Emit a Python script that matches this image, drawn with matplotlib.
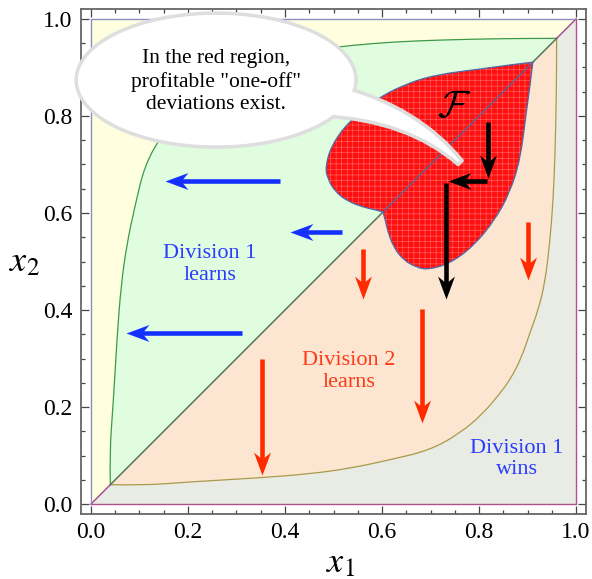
import numpy as np
import matplotlib
matplotlib.use('Agg')
import matplotlib.pyplot as plt
from matplotlib.patches import Ellipse, PathPatch
from matplotlib.path import Path
from matplotlib.markers import MarkerStyle
from matplotlib.transforms import Affine2D

plt.rcParams.update({
    'font.family': 'Liberation Serif',
    'hatch.linewidth': 0.4,
})

ticks = [0.0, 0.2, 0.4, 0.6, 0.8, 1.0]
tick_labels = ['0.0', '0.2', '0.4', '0.6', '0.8', '1.0']

# lower-right boundary: below it division 1 wins
div2_x = [0.04, 0.10, 0.21, 0.348, 0.45, 0.534, 0.616, 0.699, 0.761,
          0.809, 0.843, 0.864, 0.887, 0.905, 0.922, 0.936, 0.946, 0.953, 0.957,
          0.959, 0.960, 0.96]
div2_y = [0.04, 0.038, 0.046, 0.054, 0.062, 0.0735, 0.091, 0.111, 0.146,
          0.187, 0.228, 0.256, 0.30, 0.353, 0.40, 0.456, 0.54, 0.627, 0.73,
          0.82, 0.90, 0.96]

# upper-left boundary of the division 1 learning zone
div1_x = [0.04, 0.038, 0.046, 0.054, 0.062, 0.0735, 0.091, 0.111, 0.146,
          0.187, 0.228, 0.256, 0.30, 0.353, 0.40, 0.456, 0.54, 0.627, 0.73,
          0.82, 0.90, 0.96]
div1_y = [0.04, 0.10, 0.21, 0.348, 0.45, 0.534, 0.616, 0.699, 0.761,
          0.809, 0.843, 0.864, 0.887, 0.905, 0.922, 0.936, 0.946, 0.953, 0.957,
          0.959, 0.960, 0.96]

diag_lo, diag_hi = 0.04, 0.96

# region F (profitable one-off deviations): lower lobe runs notch -> tip,
# upper lobe runs tip -> notch
lobe_lo_x = [0.602, 0.607, 0.611, 0.623, 0.644, 0.671, 0.695, 0.74, 0.788, 0.833,
             0.863, 0.885, 0.898, 0.905, 0.911]
lobe_lo_y = [0.602, 0.585, 0.565, 0.531, 0.503, 0.488, 0.483, 0.496, 0.531, 0.586,
             0.641, 0.709, 0.812, 0.86, 0.911]
lobe_up_x = [0.911, 0.86, 0.812, 0.709, 0.641, 0.586, 0.531, 0.496, 0.483, 0.488,
             0.503, 0.531, 0.565, 0.585, 0.602]
lobe_up_y = [0.911, 0.905, 0.898, 0.885, 0.863, 0.833, 0.788, 0.74, 0.695, 0.671,
             0.644, 0.623, 0.611, 0.607, 0.602]

# arrows: (tail x, tail y, head x, head y)
blue_arrows = [(0.39, 0.665, 0.153, 0.665),
               (0.518, 0.561, 0.41, 0.561),
               (0.311, 0.352, 0.0715, 0.352)]
red_arrows = [(0.561, 0.526, 0.561, 0.423),
              (0.90, 0.581, 0.90, 0.462),
              (0.682, 0.403, 0.682, 0.166),
              (0.353, 0.30, 0.353, 0.06)]
black_arrows = [(0.818, 0.788, 0.818, 0.672),
                (0.816, 0.665, 0.737, 0.665),
                (0.731, 0.661, 0.731, 0.423)]


def spline(xs, ys):
    """Quadratic B-spline pieces through the points, as [verts, codes]."""
    pts = np.column_stack([xs, ys])
    verts, codes = [pts[0]], [Path.LINETO]
    n = len(pts)
    for i in range(1, n - 1):
        end = pts[i + 1] if i == n - 2 else (pts[i] + pts[i + 1]) / 2
        verts += [pts[i], end]
        codes += [Path.CURVE3, Path.CURVE3]
    return [verts, codes]


def make_path(*pieces, close=True):
    # pieces are either single (x, y) tuples or spline() lists
    verts, codes = [], []
    for p in pieces:
        if isinstance(p, list):
            verts += p[0]
            codes += p[1]
        else:
            verts.append(np.asarray(p, float))
            codes.append(Path.LINETO)
    codes[0] = Path.MOVETO
    if close:
        verts.append(verts[0])
        codes.append(Path.CLOSEPOLY)
    return Path(np.array(verts, float), codes)


fig = plt.figure(figsize=(5.92, 5.79), dpi=100)
ax = fig.add_axes([81 / 592, 65 / 579, 505 / 592, 505 / 579])
ax.set_xlim(-0.0206, 1.0206)
ax.set_ylim(-0.0206, 1.0206)

div1 = spline(div1_x, div1_y)
div1_rev = spline(div1_x[::-1], div1_y[::-1])
div2 = spline(div2_x, div2_y)
div2_rev = spline(div2_x[::-1], div2_y[::-1])

# coloured regions
ax.add_patch(PathPatch(make_path((0, 0), (0, 1), (1, 1), div1_rev),
                       fc='#ffffe0', lw=0, zorder=1))
ax.add_patch(PathPatch(make_path((0, 0), (1, 0), (1, 1), div2_rev),
                       fc='#e9ebe5', lw=0, zorder=1))
ax.add_patch(PathPatch(make_path(div1), fc='#e0fde0', lw=0, zorder=1))
ax.add_patch(PathPatch(make_path(div2), fc='#fce6d2', lw=0, zorder=1))

# boundaries
ax.add_patch(PathPatch(make_path(div1, close=False), fc='none',
                       ec='#3c9a46', lw=0.9, zorder=2))
ax.add_patch(PathPatch(make_path(div2, close=False), fc='none',
                       ec='#a89a48', lw=0.9, zorder=2))
ax.plot([diag_lo, diag_hi], [diag_lo, diag_hi], color='#5d805f', lw=1.2, zorder=2)
ax.plot([0, diag_lo], [0, diag_lo], color='#a0448c', lw=1.0, zorder=2)
ax.plot([diag_hi, 1], [diag_hi, 1], color='#a0448c', lw=1.0, zorder=2)
ax.plot([0, 0, 1], [0, 1, 1], color='#8c8cc8', lw=1.0, zorder=2)
ax.plot([0, 1, 1], [0, 0, 1], color='#b0508c', lw=1.0, zorder=2)

# the heart-shaped region F
heart = make_path(spline(lobe_lo_x, lobe_lo_y), spline(lobe_up_x, lobe_up_y))
ax.add_patch(PathPatch(heart, facecolor='#ff1010', edgecolor='#ff6a6a',
                       hatch='+++', lw=0, zorder=3))
ax.add_patch(PathPatch(heart, facecolor='none', edgecolor='#4f6aa8',
                       lw=0.9, zorder=3))
ax.plot([lobe_lo_x[0], lobe_lo_x[-1]], [lobe_lo_y[0], lobe_lo_y[-1]],
        color='#4f6aa8', lw=0.9, zorder=3)

# notched arrowhead, pointing along +x with the tip at the origin
head_path = Path([(0, 0), (-23, 8.5), (-16, 0), (-23, -8.5), (0, 0)], closed=True)


def arrow(x0, y0, x1, y1, color):
    ang = np.degrees(np.arctan2(y1 - y0, x1 - x0))
    frac = 0.025 / np.hypot(x1 - x0, y1 - y0)
    ax.plot([x0, x1 - (x1 - x0) * frac], [y0, y1 - (y1 - y0) * frac],
            color=color, lw=3.3, solid_capstyle='butt', zorder=5)
    head = MarkerStyle(head_path, transform=Affine2D().rotate_deg(ang))
    ax.plot(x1, y1, marker=head, ms=33, color=color, mew=0, zorder=5)


for a in blue_arrows:
    arrow(*a, '#1430ff')
for a in red_arrows:
    arrow(*a, '#ff2a00')
for a in black_arrows:
    arrow(*a, 'black')

ax.text(0.748, 0.818, r'$\mathcal{F}$', fontsize=28, math_fontfamily='cm',
        ha='center', va='center', zorder=6)
ax.text(0.245, 0.493, 'Division 1\nlearns', color='#2a3cff', fontsize=16,
        ha='center', va='center', linespacing=1.2, zorder=6)
ax.text(0.532, 0.274, 'Division 2\nlearns', color='#ff3a14', fontsize=16,
        ha='center', va='center', linespacing=1.2, zorder=6)
ax.text(0.878, 0.093, 'Division 1\nwins', color='#2a3cff', fontsize=16,
        ha='center', va='center', linespacing=1.2, zorder=6)

# speech bubble
bubble_kw = dict(facecolor='white', edgecolor='#dedede', lw=2.6, clip_on=False)
ax.add_patch(Ellipse((0.258, 0.874), 0.577, 0.276, zorder=10, **bubble_kw))
tail = Path([(0.52, 0.86), (0.6775, 0.816), (0.765, 0.708), (0.757, 0.700),
             (0.653, 0.791), (0.48, 0.80), (0.52, 0.86)],
            [Path.MOVETO, Path.CURVE3, Path.CURVE3, Path.LINETO,
             Path.CURVE3, Path.CURVE3, Path.CLOSEPOLY])
ax.add_patch(PathPatch(tail, zorder=11, joinstyle='round', **bubble_kw))
ax.add_patch(Ellipse((0.258, 0.874), 0.569, 0.268, facecolor='white',
                     edgecolor='none', zorder=12, clip_on=False))
ax.text(0.258, 0.871, 'In the red region,\nprofitable "one-off"\ndeviations exist.',
        fontsize=15.5, ha='center', va='center', linespacing=1.25, zorder=13)

# axes, ticks, labels
ax.set_xticks(ticks)
ax.set_xticklabels(tick_labels)
ax.set_yticks(ticks)
ax.set_yticklabels(tick_labels)
ax.set_xticks(np.arange(0, 1.01, 0.05), minor=True)
ax.set_yticks(np.arange(0, 1.01, 0.05), minor=True)
ax.tick_params(which='both', direction='in', top=True, right=True,
               color='#444444', width=0.9)
ax.tick_params(which='major', length=6, labelsize=17, pad=6)
ax.tick_params(which='minor', length=3.2)
for s in ax.spines.values():
    s.set_color('#666666')
    s.set_linewidth(1.3)

ax.text(0.513, -0.099, r'$x_1$', transform=ax.transAxes, fontsize=26,
        math_fontfamily='stix', ha='center', va='center')
ax.text(-0.111, 0.497, r'$x_2$', transform=ax.transAxes, fontsize=26,
        math_fontfamily='stix', ha='center', va='center')

fig.savefig('out.png', dpi=100)
